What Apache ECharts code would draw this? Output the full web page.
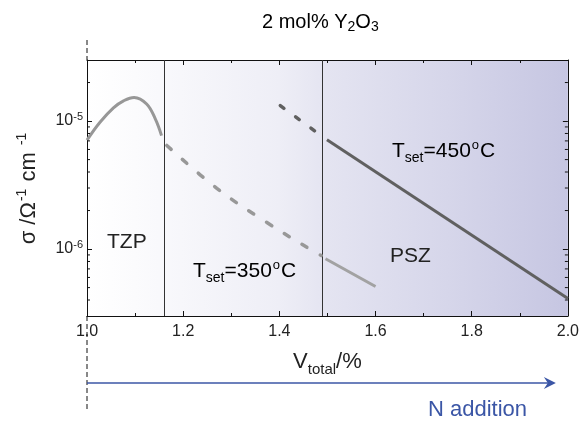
<!DOCTYPE html>
<html><head><meta charset="utf-8">
<script src="https://cdn.jsdelivr.net/npm/echarts@6/dist/echarts.min.js"></script>
<style>html,body{margin:0;padding:0;background:#fff}#c{width:582px;height:421px}</style>
</head><body><div id="c"></div>
<script>
// ---- data ----
const xRange = [1.0, 2.0];
const yRange = [3e-7, 3e-5];
const xTickInterval = 0.2;
const phaseBoundaries = [1.157, 1.494];
const yMinorTicks = [4e-7, 5e-7, 6e-7, 7e-7, 8e-7, 9e-7,
                     2e-6, 3e-6, 4e-6, 5e-6, 6e-6, 7e-6, 8e-6, 9e-6, 2e-5];

const tzpX = [1.000, 1.027, 1.055, 1.076, 1.098, 1.124, 1.142, 1.155];
const tzpY = [7.1e-6, 9.8e-6, 1.27e-5, 1.44e-5, 1.53e-5, 1.36e-5, 1.04e-5, 7.7e-6];

const t350DashX = [1.166, 1.270, 1.371, 1.471, 1.487];
const t350DashY = [6.45e-6, 2.98e-6, 1.64e-6, 9.6e-7, 8.9e-7];
const t350SolidX = [1.496, 1.600];
const t350SolidY = [8.4e-7, 5.1e-7];

const t450DashX = [1.402, 1.480];
const t450DashY = [1.32e-5, 8.04e-6];
const t450SolidX = [1.499, 2.000];
const t450SolidY = [7.15e-6, 4.11e-7];

const arrowEndX = 1.975;

const zip = (xs, ys) => xs.map((x, i) => [x, ys[i]]);
const FONT = 'Liberation Sans, Arial, sans-serif';
const TXT = '#222';
const BLUE = '#3b56a6';

const chart = echarts.init(document.getElementById('c'), null, {renderer: 'canvas'});

const supRich = {
  a: {fontSize: 21, fontFamily: FONT, color: TXT},
  b: {fontSize: 14, fontFamily: FONT, color: TXT, padding: [14, 0, 0, 0]},
  c: {fontSize: 13, fontFamily: FONT, color: TXT, padding: [0, 1, 12, 1]}
};

function yLabel(v) {
  const l = Math.log10(v);
  const r = Math.round(l);
  if (Math.abs(l - r) > 1e-6) return '';
  return '{m|10}{s|' + r + '}';
}

const axisLineStyle = {color: '#111', width: 1};

const option = {
  animation: false,
  backgroundColor: '#fff',
  grid: {
    left: 87, top: 60, width: 481, height: 256, show: true, borderWidth: 0,
    backgroundColor: new echarts.graphic.LinearGradient(0, 0, 1, 0, [
      {offset: 0, color: '#ffffff'},
      {offset: 0.15, color: '#f9f9fc'},
      {offset: 0.4, color: '#eeeef6'},
      {offset: 0.5, color: '#e4e4f1'},
      {offset: 0.75, color: '#d6d6ea'},
      {offset: 1, color: '#c6c6e2'}
    ])
  },
  xAxis: [{
    type: 'value', min: xRange[0], max: xRange[1], interval: xTickInterval,
    position: 'bottom',
    axisLine: {show: true, lineStyle: axisLineStyle},
    axisTick: {show: true, inside: true, length: 5, lineStyle: axisLineStyle},
    minorTick: {show: true, splitNumber: 2, length: 3, lineStyle: axisLineStyle},
    splitLine: {show: false},
    axisLabel: {fontSize: 16, fontFamily: FONT, color: TXT, margin: 8,
      formatter: v => v.toFixed(1), showMinLabel: true, showMaxLabel: true},
    name: '{a|V}{b|total}{a|/%}',
    nameLocation: 'middle', nameGap: 30,
    nameTextStyle: {rich: {
      a: {fontSize: 22, fontFamily: FONT, color: TXT},
      b: {fontSize: 15, fontFamily: FONT, color: TXT, padding: [16, 0, 0, 0]}
    }}
  }, {
    type: 'value', min: xRange[0], max: xRange[1], interval: xTickInterval,
    position: 'top',
    axisLine: {show: true, lineStyle: axisLineStyle},
    axisTick: {show: true, inside: true, length: 5, lineStyle: axisLineStyle},
    minorTick: {show: true, splitNumber: 2, length: 3, lineStyle: axisLineStyle},
    splitLine: {show: false},
    axisLabel: {show: false}
  }],
  yAxis: [{
    type: 'log', logBase: 10, min: yRange[0], max: yRange[1],
    position: 'left',
    axisLine: {show: true, lineStyle: axisLineStyle},
    axisTick: {show: true, inside: true, length: 5, lineStyle: axisLineStyle},
    splitLine: {show: false},
    axisLabel: {margin: 4, formatter: yLabel, rich: {
      m: {fontSize: 16, fontFamily: FONT, color: TXT},
      s: {fontSize: 11, fontFamily: FONT, color: TXT, padding: [0, 0, 9, 0]}
    }},
    name: '{a|σ /Ω}{p|-1}{a| cm }{p|-1}',
    nameLocation: 'middle', nameRotate: 90, nameGap: 44,
    nameTextStyle: {rich: {
      a: {fontSize: 22, fontFamily: FONT, color: TXT},
      p: {fontSize: 14, fontFamily: FONT, color: TXT, padding: [0, 1, 14, 1]}
    }}
  }, {
    type: 'log', logBase: 10, min: yRange[0], max: yRange[1],
    position: 'right',
    axisLine: {show: true, lineStyle: axisLineStyle},
    axisTick: {show: true, inside: true, length: 5, lineStyle: axisLineStyle},
    splitLine: {show: false},
    axisLabel: {show: false}
  }],
  graphic: [
    {type: 'text', x: 262, y: 22, style: {
      text: '{a|2 mol% Y}{b|2}{a|O}{b|3}', verticalAlign: 'middle', align: 'left',
      rich: {
        a: {fontSize: 20, fontFamily: FONT, color: TXT},
        b: {fontSize: 14, fontFamily: FONT, color: TXT, padding: [10, 0, 0, 0]}
      }}},
    {type: 'text', x: 107, y: 242, style: {text: 'TZP', font: '21px ' + FONT, fill: TXT, verticalAlign: 'middle'}},
    {type: 'text', x: 390, y: 256, style: {text: 'PSZ', font: '21px ' + FONT, fill: TXT, verticalAlign: 'middle'}},
    {type: 'text', x: 193, y: 271, style: {text: '{a|T}{b|set}{a|=350}{c|o}{a|C}', verticalAlign: 'middle', rich: supRich}},
    {type: 'text', x: 392, y: 151, style: {text: '{a|T}{b|set}{a|=450}{c|o}{a|C}', verticalAlign: 'middle', rich: supRich}},
    {type: 'text', x: 428, y: 410, style: {text: 'N addition', font: '22px ' + FONT, fill: BLUE, verticalAlign: 'middle'}}
  ],
  series: [
    {
      name: 'TZP', type: 'line', data: zip(tzpX, tzpY), smooth: 0.4, symbol: 'none',
      lineStyle: {color: '#979797', width: 3}, z: 5,
      markLine: {
        silent: true, symbol: 'none', label: {show: false},
        lineStyle: {color: '#333', width: 1, type: 'solid'},
        data: phaseBoundaries.map(b => ({xAxis: b}))
      }
    },
    {
      name: '350 dashed', type: 'line', data: zip(t350DashX, t350DashY), smooth: 0.4, symbol: 'none',
      lineStyle: {color: '#989898', width: 3.5, type: [6, 15], cap: 'round'}, z: 5
    },
    {
      name: '350 solid', type: 'line', data: zip(t350SolidX, t350SolidY), symbol: 'none',
      lineStyle: {color: '#a2a2a2', width: 3}, z: 5
    },
    {
      name: '450 dashed', type: 'line', data: zip(t450DashX, t450DashY), symbol: 'none',
      lineStyle: {color: '#606060', width: 3.5, type: [4.5, 14.5], cap: 'round'}, z: 5
    },
    {
      name: '450 solid', type: 'line', data: zip(t450SolidX, t450SolidY), symbol: 'none',
      lineStyle: {color: '#606060', width: 3}, z: 5
    },
    {
      name: 'yMinorTicks', type: 'custom', silent: true, z: 6,
      data: yMinorTicks.map(v => [xRange[0], v]),
      renderItem: (params, api) => {
        const v = api.value(1);
        const pL = api.coord([xRange[0], v]);
        const pR = api.coord([xRange[1], v]);
        const st = {stroke: '#111', lineWidth: 1};
        return {type: 'group', children: [
          {type: 'line', shape: {x1: pL[0], y1: pL[1], x2: pL[0] + 3, y2: pL[1]}, style: st},
          {type: 'line', shape: {x1: pR[0] - 3, y1: pR[1], x2: pR[0], y2: pR[1]}, style: st}
        ]};
      }
    },
    {
      name: 'annotations', type: 'custom', silent: true, clip: false, z: 6,
      data: [[xRange[0], yRange[0]]],
      renderItem: (params, api) => {
        const top = api.coord([xRange[0], yRange[1]]);
        const bot = api.coord([xRange[0], yRange[0]]);
        const tip = api.coord([arrowEndX, yRange[0]]);
        const ay = bot[1] + 67;
        const dash = {stroke: '#111', lineWidth: 1, lineDash: [5, 3]};
        return {type: 'group', children: [
          {type: 'line', shape: {x1: top[0], y1: top[1] - 20, x2: top[0], y2: top[1]}, style: dash},
          {type: 'line', shape: {x1: bot[0], y1: bot[1], x2: bot[0], y2: bot[1] + 96}, style: dash},
          {type: 'line', shape: {x1: bot[0], y1: ay, x2: tip[0] - 6, y2: ay}, style: {stroke: BLUE, lineWidth: 1.5}},
          {type: 'polygon', shape: {points: [[tip[0], ay], [tip[0] - 12, ay - 6], [tip[0] - 8, ay], [tip[0] - 12, ay + 6]]},
            style: {fill: BLUE}}
        ]};
      }
    }
  ]
};
chart.setOption(option);
</script>
</body></html>
